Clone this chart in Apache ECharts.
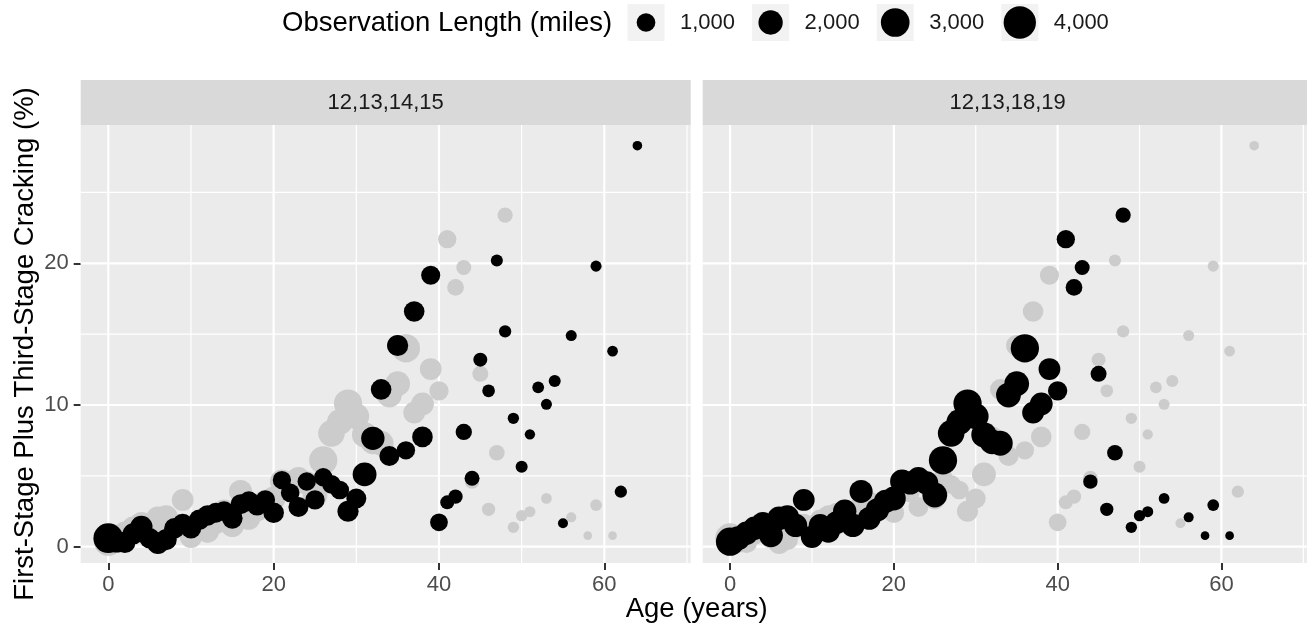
<!DOCTYPE html>
<html lang="en">
<head>
  <meta charset="UTF-8">
  <title>Cracking vs age</title>
  <style>
    html, body {
      margin: 0;
      padding: 0;
      background: #fff;
    }
    #chart {
      width: 1307px;
      height: 630px;
    }
  </style>
  <script src="https://cdn.jsdelivr.net/npm/echarts@6/dist/echarts.min.js"></script>
</head>
<body>
<div id="chart"></div>

<script>
  // [age (years), cracking (%), observation length (miles)]
  var groupA = [
    [0, 0.6, 3300], [1, 0.35, 1500], [2, 0.3, 1400], [3, 0.9, 1400], [4, 1.4, 1600],
    [5, 0.6, 1300], [6, 0.25, 1500], [7, 0.5, 1400], [8, 1.3, 1300], [9, 1.6, 1300],
    [10, 1.3, 1300], [11, 1.9, 1300], [12, 2.2, 1300], [13, 2.4, 1200], [14, 2.5, 1200],
    [15, 2.0, 1300], [16, 3.0, 1200], [17, 3.2, 1200], [18, 2.9, 1200], [19, 3.3, 1100],
    [20, 2.4, 1300], [21, 4.7, 950], [22, 3.8, 1000], [23, 2.8, 1200], [24, 4.6, 950],
    [25, 3.3, 1100], [26, 4.9, 950], [27, 4.4, 1000], [28, 4.0, 1000], [29, 2.5, 1400],
    [30, 3.4, 1200], [31, 5.1, 1900], [32, 7.65, 1800], [33, 11.1, 1300], [34, 6.4, 1200],
    [35, 14.2, 1400], [36, 6.8, 950], [37, 16.6, 1300], [38, 7.75, 1300], [39, 19.15, 1050],
    [40, 1.72, 860], [41, 3.13, 430], [42, 3.53, 460], [43, 8.1, 680], [44, 4.83, 530],
    [45, 13.2, 430], [46, 11.0, 310], [47, 20.2, 260], [48, 15.2, 280], [49, 9.06, 210],
    [50, 5.65, 260], [51, 7.93, 150], [52, 11.25, 240], [53, 10.05, 190], [54, 11.7, 260],
    [55, 1.65, 130], [56, 14.9, 190], [59, 19.8, 190], [61, 13.8, 170], [62, 3.88, 280],
    [64, 28.3, 110]
  ];

  var groupB = [
    [0, 0.35, 2900], [1, 0.6, 1900], [2, 0.95, 1800], [3, 1.3, 1800], [4, 1.65, 1700],
    [5, 0.8, 1900], [6, 2.0, 1900], [7, 2.1, 1800], [8, 1.5, 1800], [9, 3.3, 1500],
    [10, 0.7, 1600], [11, 1.5, 1700], [12, 1.1, 1800], [13, 1.7, 1700], [14, 2.5, 1800],
    [15, 1.5, 1800], [16, 3.9, 1750], [17, 2.0, 1700], [18, 2.6, 1800], [19, 3.2, 1800],
    [20, 3.4, 1900], [21, 4.6, 1900], [22, 4.5, 1800], [23, 4.8, 1800], [24, 4.5, 1800],
    [25, 3.65, 2100], [26, 6.1, 2900], [27, 8.0, 2500], [28, 8.8, 2300], [29, 10.1, 2900],
    [30, 9.2, 2300], [31, 7.9, 2200], [32, 7.4, 2100], [33, 7.3, 2100], [34, 10.7, 2100],
    [35, 11.5, 2100], [36, 14.0, 2900], [37, 9.46, 1500], [38, 10.07, 1700], [39, 12.54, 1500],
    [40, 11.0, 1100], [41, 21.7, 940], [42, 18.3, 730], [43, 19.7, 530], [44, 4.59, 460],
    [45, 12.2, 640], [46, 2.64, 360], [47, 6.63, 610], [48, 23.4, 560], [49, 1.37, 210],
    [50, 2.19, 210], [51, 2.47, 190], [53, 3.41, 170], [56, 2.07, 130], [58, 0.78, 70],
    [59, 2.94, 240], [61, 0.78, 70]
  ];

  var panelNames = ['12,13,14,15', '12,13,18,19'];
  var xTicks = [0, 20, 40, 60];
  var xMinor = [10, 30, 50, 70];
  var yTicks = [0, 10, 20];
  var yMinor = [5, 15, 25];
  var legendMiles = [1000, 2000, 3000, 4000];
  var legendLabels = ['1,000', '2,000', '3,000', '4,000'];

  var X_MIN = -3.34, X_MAX = 70.45;
  var Y_MIN = -1.15, Y_MAX = 29.76;
  var FONT = "'Liberation Sans', Arial, sans-serif";

  // point diameter from miles (sqrt scale, fitted to the legend)
  function sizeOf(miles) {
    return 5.1 + 0.43 * Math.sqrt(miles);
  }

  var panelLeft = [80.7, 702.7];
  var panelTop = 125, panelW = 610, panelH = 438;

  var chart = echarts.init(document.getElementById('chart'));

  // white grid lines drawn through the axes' own scales
  function gridLines(dir, width) {
    return function (params, api) {
      var p1, p2;
      if (dir === 'v') {
        var v = api.value(0);
        p1 = api.coord([v, Y_MIN]);
        p2 = api.coord([v, Y_MAX]);
      } else {
        var h = api.value(1);
        p1 = api.coord([X_MIN, h]);
        p2 = api.coord([X_MAX, h]);
      }
      return {
        type: 'line',
        shape: { x1: p1[0], y1: p1[1], x2: p2[0], y2: p2[1] },
        style: { stroke: '#ffffff', lineWidth: width }
      };
    };
  }

  var grids = [], xAxes = [], yAxes = [], series = [], graphics = [];

  for (var i = 0; i < 2; i++) {
    grids.push({
      left: panelLeft[i], top: panelTop, width: panelW, height: panelH,
      show: true, backgroundColor: '#ebebeb', borderWidth: 0, containLabel: false
    });
    xAxes.push({
      gridIndex: i, type: 'value', min: X_MIN, max: X_MAX, position: 'bottom',
      axisLine: { show: false, onZero: false },
      splitLine: { show: false },
      axisTick: { show: true, length: 7, customValues: xTicks, lineStyle: { color: '#333333', width: 2 } },
      axisLabel: { customValues: xTicks, margin: 11, color: '#4d4d4d', fontSize: 22, fontFamily: FONT }
    });
    yAxes.push({
      gridIndex: i, type: 'value', min: Y_MIN, max: Y_MAX, position: 'left',
      axisLine: { show: false, onZero: false },
      splitLine: { show: false },
      axisTick: { show: i === 0, length: 7, customValues: yTicks, lineStyle: { color: '#333333', width: 2 } },
      axisLabel: { show: i === 0, customValues: yTicks, margin: 12, color: '#4d4d4d', fontSize: 22, fontFamily: FONT }
    });

    var common = { xAxisIndex: i, yAxisIndex: i, silent: true, animation: false };
    series.push(Object.assign({ type: 'custom', z: 1, renderItem: gridLines('v', 1.2),
      data: xMinor.map(function (v) { return [v, 0]; }) }, common));
    series.push(Object.assign({ type: 'custom', z: 1, renderItem: gridLines('h', 1.2),
      data: yMinor.map(function (v) { return [0, v]; }) }, common));
    series.push(Object.assign({ type: 'custom', z: 1, renderItem: gridLines('v', 2.2),
      data: xTicks.map(function (v) { return [v, 0]; }) }, common));
    series.push(Object.assign({ type: 'custom', z: 1, renderItem: gridLines('h', 2.2),
      data: yTicks.map(function (v) { return [0, v]; }) }, common));

    var own = i === 0 ? groupA : groupB;
    var other = i === 0 ? groupB : groupA;
    series.push(Object.assign({
      type: 'scatter', z: 2, data: other,
      symbolSize: function (val) { return sizeOf(val[2]); },
      itemStyle: { color: '#cccccc', opacity: 1 }
    }, common));
    series.push(Object.assign({
      type: 'scatter', z: 3, data: own,
      symbolSize: function (val) { return sizeOf(val[2]); },
      itemStyle: { color: '#000000', opacity: 1 }
    }, common));

    // facet strip
    graphics.push({
      type: 'rect', shape: { x: panelLeft[i], y: 80, width: panelW, height: 45 },
      style: { fill: '#d9d9d9' }, silent: true
    });
    graphics.push({
      type: 'text', x: panelLeft[i] + panelW / 2, y: 103,
      style: { text: panelNames[i], fill: '#1a1a1a', fontSize: 22, fontFamily: FONT,
        align: 'center', verticalAlign: 'middle', textAlign: 'center', textVerticalAlign: 'middle' },
      silent: true
    });
  }

  // axis titles
  graphics.push({
    type: 'text', x: (panelLeft[0] + panelLeft[1] + panelW) / 2, y: 609,
    style: { text: 'Age (years)', fill: '#000', fontSize: 27.5, fontFamily: FONT,
      align: 'center', verticalAlign: 'middle', textAlign: 'center', textVerticalAlign: 'middle' },
    silent: true
  });
  graphics.push({
    type: 'text', x: 25, y: panelTop + panelH / 2, rotation: Math.PI / 2,
    style: { text: 'First-Stage Plus Third-Stage Cracking (%)', fill: '#000', fontSize: 27.5, fontFamily: FONT,
      align: 'center', verticalAlign: 'middle', textAlign: 'center', textVerticalAlign: 'middle' },
    silent: true
  });

  // size legend
  graphics.push({
    type: 'text', x: 282, y: 23,
    style: { text: 'Observation Length (miles)', fill: '#000', fontSize: 27.5, fontFamily: FONT,
      align: 'left', verticalAlign: 'middle', textAlign: 'left', textVerticalAlign: 'middle' },
    silent: true
  });
  legendMiles.forEach(function (m, k) {
    var kx = 627.5 + k * 124.6;
    graphics.push({
      type: 'rect', shape: { x: kx, y: 4, width: 37, height: 37 },
      style: { fill: '#f2f2f2' }, silent: true
    });
    graphics.push({
      type: 'circle', shape: { cx: kx + 18.5, cy: 22.5, r: sizeOf(m) / 2 },
      style: { fill: '#000' }, silent: true
    });
    graphics.push({
      type: 'text', x: kx + 52.5, y: 23,
      style: { text: legendLabels[k], fill: '#1a1a1a', fontSize: 22, fontFamily: FONT,
        align: 'left', verticalAlign: 'middle', textAlign: 'left', textVerticalAlign: 'middle' },
      silent: true
    });
  });

  var option = {
    animation: false,
    backgroundColor: '#ffffff',
    grid: grids,
    xAxis: xAxes,
    yAxis: yAxes,
    series: series,
    graphic: { elements: graphics }
  };

  chart.setOption(option);
</script>
</body>
</html>
